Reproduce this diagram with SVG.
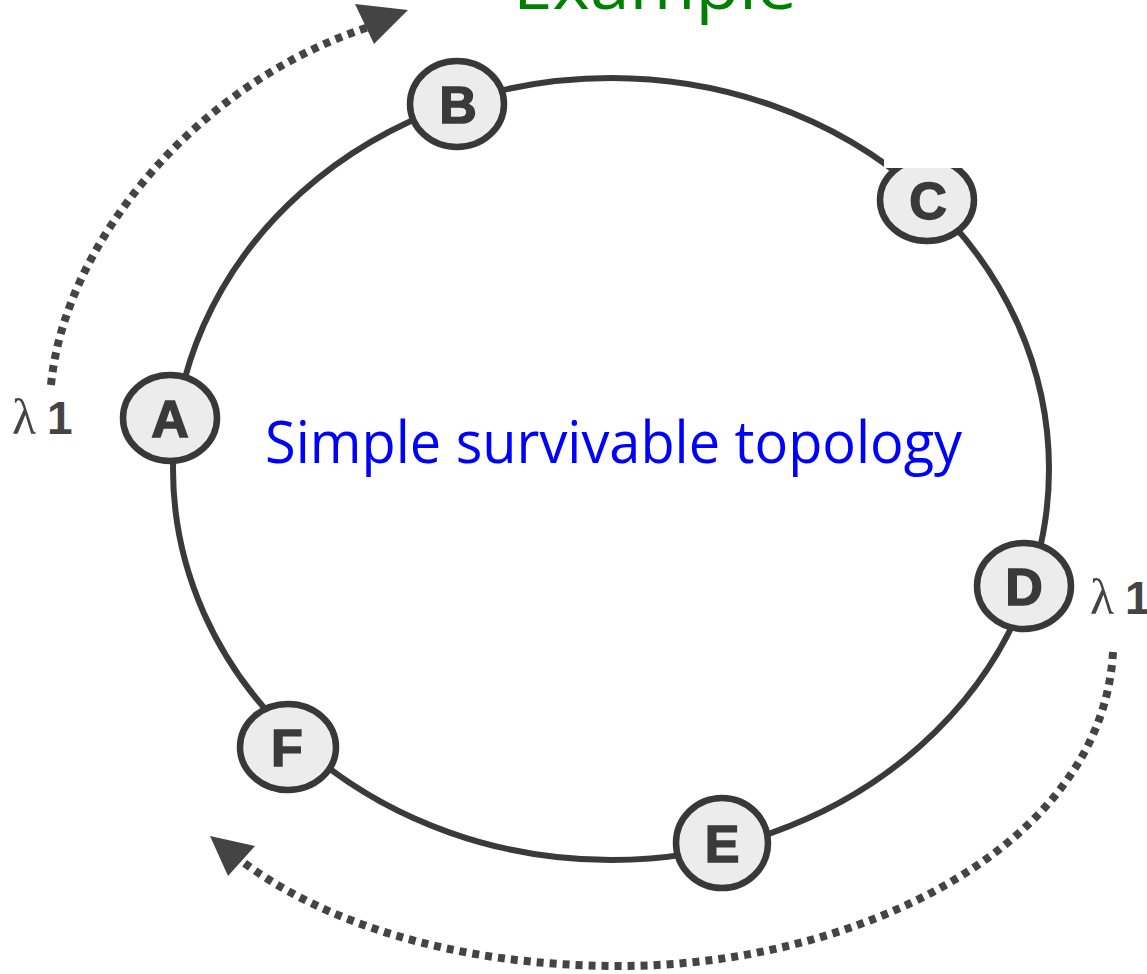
<svg xmlns="http://www.w3.org/2000/svg" width="1147" height="974" viewBox="0 0 1147 974">
<style>
.ring{fill:none;stroke:#3a3a3a;stroke-width:6}
.dots{fill:none;stroke:#444;stroke-width:8;stroke-dasharray:7 6}
.head{fill:#444}
.node ellipse{fill:#ececec;stroke:#383838;stroke-width:6.5}
.node text{font-family:"Liberation Sans",Arial,sans-serif;font-weight:bold;font-size:52px;fill:#3a3a3a;stroke:#3a3a3a;stroke-width:1.5;text-anchor:middle}
.lam{font-family:"Liberation Serif",serif;font-size:50px;fill:#444}
.one{font-family:"Liberation Sans",Arial,sans-serif;font-weight:bold;font-size:46px;fill:#444}
</style>
<rect width="1147" height="974" fill="#fff"/>
<text x="513" y="9" font-family="Open Sans, Liberation Sans, sans-serif" font-size="66" fill="#008000" textLength="284" lengthAdjust="spacingAndGlyphs">Example</text>
<g id="connectors">
<ellipse class="ring" cx="611" cy="469" rx="438" ry="391"/>
<path class="dots" d="M 51 385 C 65 240 200 80 372 26"/>
<polygon class="head" points="408,10 355,4 374,44"/>
<path class="dots" d="M 1113 652 C 1102 850 850 966 620 966 C 450 966 320 920 243 862"/>
<polygon class="head" points="210,836 228,876 255,846"/>
</g>
<g id="node-A" class="node"><ellipse cx="170" cy="418" rx="47" ry="43"/><text x="170" y="437">A</text></g>
<g id="node-B" class="node"><ellipse cx="457" cy="104" rx="47" ry="43"/><text x="458" y="123">B</text></g>
<g id="node-C" class="node"><ellipse cx="927" cy="200" rx="47" ry="41"/><text x="928" y="219">C</text></g>
<rect x="884" y="110" width="84" height="58" fill="#fff"/>
<g id="node-D" class="node"><ellipse cx="1024" cy="586" rx="47" ry="43"/><text x="1024" y="605">D</text></g>
<g id="node-E" class="node"><ellipse cx="722" cy="843" rx="46" ry="45"/><text x="722" y="862">E</text></g>
<g id="node-F" class="node"><ellipse cx="288" cy="747" rx="48" ry="43"/><text x="287" y="766">F</text></g>
<g id="labels">
<text class="lam" x="12" y="434">λ</text><text class="one" x="47" y="434">1</text>
<text class="lam" x="1090" y="614">λ</text><text class="one" x="1125" y="614">1</text>
<text x="265" y="463" font-family="Open Sans, Liberation Sans, sans-serif" font-size="58" fill="#0000ff" textLength="697" lengthAdjust="spacingAndGlyphs">Simple survivable topology</text>
</g>
</svg>
